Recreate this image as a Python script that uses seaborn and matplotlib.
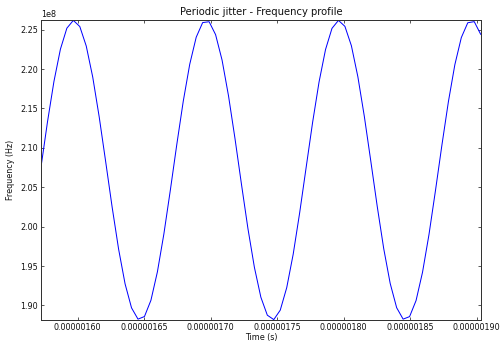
import matplotlib
matplotlib.use("Agg")
import matplotlib.pyplot as plt
import matplotlib.ticker as mticker
import seaborn as sns
import pandas as pd

# Time samples (microseconds)
time_us = [
    1.57240, 1.57726, 1.58212, 1.58699, 1.59185, 1.59671, 1.60157, 1.60643,
    1.61130, 1.61616, 1.62102, 1.62588, 1.63074, 1.63561, 1.64047, 1.64533,
    1.65019, 1.65505, 1.65992, 1.66478, 1.66964, 1.67450, 1.67936, 1.68423,
    1.68909, 1.69395, 1.69881, 1.70367, 1.70854, 1.71340, 1.71826, 1.72312,
    1.72798, 1.73285, 1.73771, 1.74257, 1.74743, 1.75229, 1.75716, 1.76202,
    1.76688, 1.77174, 1.77660, 1.78147, 1.78633, 1.79119, 1.79605, 1.80091,
    1.80578, 1.81064, 1.81550, 1.82036, 1.82522, 1.83009, 1.83495, 1.83981,
    1.84467, 1.84953, 1.85440, 1.85926, 1.86412, 1.86898, 1.87384, 1.87871,
    1.88357, 1.88843, 1.89329, 1.89815, 1.90302,
]
# Frequency samples (units of 1e8 Hz)
freq_e8 = [
    2.0756, 2.1327, 2.1841, 2.2251, 2.2518, 2.2617, 2.2539, 2.2291,
    2.1897, 2.1392, 2.0825, 2.0248, 1.9715, 1.9274, 1.8969, 1.8826,
    1.8859, 1.9065, 1.9426, 1.9906, 2.0462, 2.1042, 2.1591, 2.2060,
    2.2403, 2.2589, 2.2600, 2.2436, 2.2113, 2.1658, 2.1117, 2.0538,
    1.9976, 1.9483, 1.9104, 1.8876, 1.8820, 1.8940, 1.9226, 1.9650,
    2.0175, 2.0749, 2.1321, 2.1836, 2.2247, 2.2516, 2.2617, 2.2541,
    2.2295, 2.1902, 2.1399, 2.0832, 2.0255, 1.9720, 1.9279, 1.8971,
    1.8826, 1.8858, 1.9062, 1.9421, 1.9900, 2.0456, 2.1035, 2.1585,
    2.2055, 2.2399, 2.2587, 2.2601, 2.2439,
]
x_ticks = [1.60e-6, 1.65e-6, 1.70e-6, 1.75e-6, 1.80e-6, 1.85e-6, 1.90e-6]
y_ticks = [1.90e8, 1.95e8, 2.00e8, 2.05e8, 2.10e8, 2.15e8, 2.20e8, 2.25e8]

df = pd.DataFrame({
    "t": [v * 1e-6 for v in time_us],
    "f": [v * 1e8 for v in freq_e8],
})

sns.set_theme(style="ticks")
plt.rcParams["font.family"] = ["DejaVu Sans"]

DPI = 72
fig = plt.figure(figsize=(501 / DPI, 345 / DPI), dpi=DPI)
W, H = 501, 345
ax = fig.add_axes([41 / W, (H - 320) / H, (480.7 - 41) / W, (320 - 20.3) / H])

sns.lineplot(data=df, x="t", y="f", ax=ax, color="#0000ff", linewidth=1.0,
             estimator=None, sort=False)

ax.set_xlim(1.5724e-6, 1.9030e-6)
ax.set_ylim(1.8815e8, 2.2618e8)
ax.set_xticks(x_ticks)
ax.set_yticks(y_ticks)
ax.xaxis.set_major_formatter(mticker.FormatStrFormatter("%.8f"))
fmt = mticker.ScalarFormatter(useOffset=False)
fmt.set_scientific(True)
fmt.set_powerlimits((0, 0))
ax.yaxis.set_major_formatter(fmt)
ax.yaxis.get_offset_text().set_fontsize(8)
ax.yaxis.get_offset_text().set_color("#111111")

for s in ax.spines.values():
    s.set_visible(True)
    s.set_color("#333333")
    s.set_linewidth(1.0)

ax.tick_params(axis="both", which="major", direction="in", length=3, width=0.8,
               labelsize=8, colors="#333333", labelcolor="#111111",
               top=True, right=True, pad=3)
ax.minorticks_off()

ax.set_title("Periodic jitter - Frequency profile", fontsize=10, color="#111111", pad=5)
ax.set_xlabel("Time (s)", fontsize=8, color="#111111", labelpad=1)
ax.set_ylabel("Frequency (Hz)", fontsize=8, color="#111111", labelpad=5)
ax.grid(False)

fig.savefig("out.png", dpi=DPI)
